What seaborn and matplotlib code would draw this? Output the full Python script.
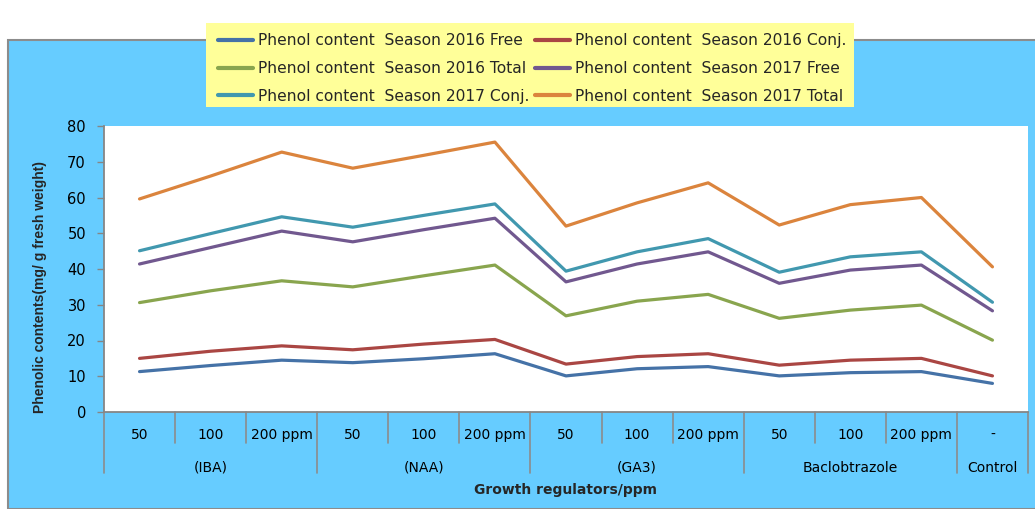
import matplotlib
matplotlib.use("Agg")
import matplotlib.pyplot as plt
from matplotlib.patches import Rectangle
from matplotlib.lines import Line2D
import seaborn as sns
import pandas as pd

# --------------------------------
# DATA
# --------------------------------

dose_labels = ["50", "100", "200 ppm", "50", "100", "200 ppm", "50", "100", "200 ppm",
               "50", "100", "200 ppm", "-"]
group_labels = ["(IBA)", "(NAA)", "(GA3)", "Baclobtrazole", "Control"]
group_sizes = [3, 3, 3, 3, 1]

series_names = [
    "Phenol content  Season 2016 Free",
    "Phenol content  Season 2016 Conj.",
    "Phenol content  Season 2016 Total",
    "Phenol content  Season 2017 Free",
    "Phenol content  Season 2017 Conj.",
    "Phenol content  Season 2017 Total",
]

free_2016 = [11.3, 13.0, 14.5, 13.8, 14.9, 16.3, 10.1, 12.1, 12.7, 10.1, 11.0, 11.3, 8.0]
conj_2016 = [15.0, 17.0, 18.5, 17.4, 19.0, 20.3, 13.4, 15.5, 16.3, 13.1, 14.5, 15.0, 10.1]
total_2016 = [30.6, 33.9, 36.7, 35.0, 38.1, 41.1, 26.9, 31.0, 32.9, 26.2, 28.5, 29.9, 20.1]
free_2017 = [41.4, 46.0, 50.6, 47.6, 51.0, 54.2, 36.4, 41.4, 44.8, 36.0, 39.7, 41.1, 28.3]
conj_2017 = [45.1, 49.9, 54.6, 51.7, 55.0, 58.2, 39.4, 44.8, 48.5, 39.1, 43.4, 44.8, 30.7]
total_2017 = [59.6, 66.0, 72.7, 68.2, 71.8, 75.5, 52.0, 58.5, 64.1, 52.3, 58.0, 60.0, 40.6]

colors = ["#4572A7", "#AA4643", "#89A54E", "#71588F", "#4198AF", "#DB843D"]

all_series = [free_2016, conj_2016, total_2016, free_2017, conj_2017, total_2017]
rows = []
for name, vals in zip(series_names, all_series):
    for i, v in enumerate(vals):
        rows.append({"pos": i, "value": v, "series": name})
df = pd.DataFrame(rows)

# --------------------------------
# FIGURE
# --------------------------------

sns.set_theme(style="white")
plt.rcParams["font.family"] = ["DejaVu Sans"]

W, H = 1035, 509
fig = plt.figure(figsize=(W / 100, H / 100), dpi=100)
fig.patch.set_facecolor("white")

# blue chart panel
fig.patches.append(Rectangle((8 / W, 0), 1.0, (H - 40) / H, transform=fig.transFigure,
                             facecolor="#66CCFF", edgecolor="#8C8C8C", linewidth=1.5, zorder=-2))
# yellow legend box
fig.patches.append(Rectangle((206 / W, (H - 107) / H), 648 / W, 84 / H, transform=fig.transFigure,
                             facecolor="#FFFF99", edgecolor="none", zorder=-1))

ax = fig.add_axes([104 / W, (H - 412) / H, (1028 - 104) / W, (412 - 126) / H])
ax.set_facecolor("white")

sns.lineplot(data=df, x="pos", y="value", hue="series", palette=colors,
             linewidth=2.3, sort=False, ax=ax, legend=True)

ax.set_xlim(-0.5, len(dose_labels) - 0.5)
ax.set_ylim(0, 80)
ax.set_yticks(range(0, 81, 10))
ax.tick_params(axis="y", labelsize=10.5, labelcolor="black", color="#868686",
               length=5, width=1, direction="out", left=True, pad=8)
ax.set_xticks([])
ax.set_xlabel("")
ax.set_ylabel("")

for side in ["top", "right"]:
    ax.spines[side].set_visible(False)
for side in ["left", "bottom"]:
    ax.spines[side].set_color("#868686")
    ax.spines[side].set_linewidth(1.3)

# category axis labels and separators
trans = ax.get_xaxis_transform()
for i, lab in enumerate(dose_labels):
    ax.text(i, -0.08, lab, transform=trans, ha="center", va="center", fontsize=10,
            color="black", clip_on=False)

bounds = [-0.5]
for s in group_sizes:
    bounds.append(bounds[-1] + s)
group_edges = set(bounds)
for k in range(len(dose_labels) + 1):
    xb = k - 0.5
    y_end = -0.213 if xb in group_edges else -0.108
    ax.add_line(Line2D([xb, xb], [0, y_end], transform=trans, color="#8C8C8C",
                       linewidth=1.2, clip_on=False))

for g, lab in enumerate(group_labels):
    center = (bounds[g] + bounds[g + 1]) / 2
    ax.text(center, -0.195, lab, transform=trans, ha="center", va="center", fontsize=10,
            color="black", clip_on=False)

ax.text(0.5, -0.273, "Growth regulators/ppm", transform=ax.transAxes, ha="center",
        va="center", fontsize=10, fontweight="bold", clip_on=False)

ax.text(-0.069, 0.437, "Phenolic contents(mg/ g fresh weight)", transform=ax.transAxes,
        ha="center", va="center", rotation=90, fontsize=10, fontweight="bold",
        family=["Liberation Sans", "DejaVu Sans"], clip_on=False)

# legend, filled row by row
handles, labels = ax.get_legend_handles_labels()
order = [0, 2, 4, 1, 3, 5]
leg = ax.legend([handles[i] for i in order], [labels[i] for i in order], ncol=2,
                loc="center", bbox_to_anchor=(532 / W, (H - 68.5) / H),
                bbox_transform=fig.transFigure, frameon=False, fontsize=11.2,
                handlelength=2.25, handletextpad=0.3, columnspacing=0.4,
                labelspacing=0.82)
for line in leg.get_lines():
    line.set_linewidth(3)

fig.savefig("out.png", dpi=100, facecolor=fig.get_facecolor())
